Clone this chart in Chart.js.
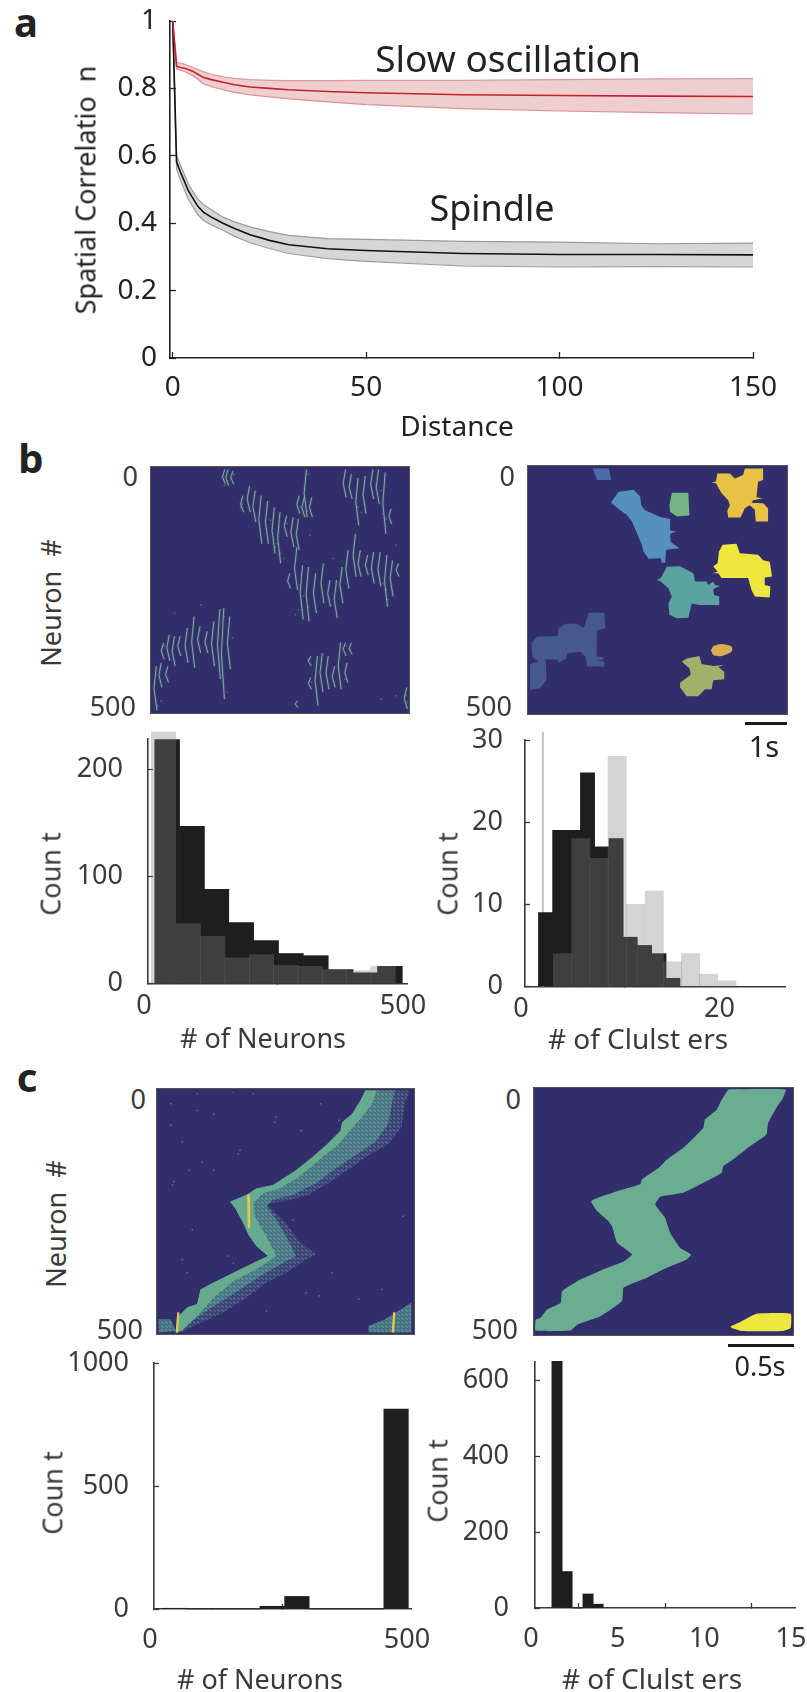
<!DOCTYPE html>
<html>
<head>
<meta charset="utf-8">
<title>Spatial correlation and clusters</title>
<script src="https://cdn.jsdelivr.net/npm/chart.js@4/dist/chart.umd.js"></script>
<style>
  html, body { margin: 0; padding: 0; background: #fff; }
  #page { position: relative; width: 807px; height: 1692px; overflow: hidden; }
  #page canvas { position: absolute; }
  .txt { position: absolute; white-space: pre; font-family: "Noto Sans", sans-serif; line-height: 1; color: #3a3a3a; }
  .bar { position: absolute; background: #1a1a1a; }
</style>
</head>
<body>
<div id="page"></div>
<script>
// panel a: correlation vs distance
var distance   = [0, 1, 2, 3, 4, 5, 6.5, 8, 10, 13, 16, 20, 25, 30, 40, 50, 75, 100, 125, 150];
var slowMean   = [1, .866, .862, .860, .856, .852, .842, .832, .826, .818, .811, .804, .800, .796, .791, .787, .781, .779, .777, .776];
var slowUpper  = [1, .878, .875, .872, .868, .863, .856, .849, .842, .834, .830, .826, .824, .823, .823, .824, .824, .826, .828, .829];
var slowLower  = [1, .858, .854, .850, .845, .839, .827, .813, .805, .796, .788, .781, .775, .769, .760, .752, .740, .733, .728, .724];
var spinMean   = [1, .582, .552, .525, .497, .478, .450, .432, .418, .400, .384, .366, .349, .336, .324, .319, .310, .307, .307, .306];
var spinUpper  = [1, .601, .573, .545, .517, .498, .472, .455, .440, .418, .404, .389, .375, .364, .354, .352, .346, .344, .339, .341];
var spinLower  = [1, .562, .528, .500, .472, .453, .425, .408, .395, .379, .361, .342, .325, .310, .295, .287, .273, .270, .271, .270];
var distanceTicks = [0, 50, 100, 150];
var correlationTicks = [0, .2, .4, .6, .8, 1];

// panel b left: raster streaks, time bin and first / last neuron
var rasterBins  = [216,226,241,271,291,308,326,346,366,383,403,423,439,463,441,479,456,581,599,619,641,664,681,701,719,434,413,451,469,491,514,534,554,571,589,611,626,648,666,686,706,723,741,9,24,44,31,48,64,81,103,123,141,163,183,201,213,231,476,476,496,511,529,548,566,586,581,599,436,766];
var rasterFirst = [5,5,8,58,38,48,58,69,82,92,99,102,105,5,58,62,62,5,15,22,18,5,5,11,85,163,216,200,203,216,196,230,230,203,169,136,169,179,173,173,179,190,196,405,398,405,357,341,344,344,327,304,324,334,314,290,287,304,384,428,384,378,384,405,357,398,357,357,475,448];
var rasterLast  = [35,38,35,92,92,112,156,156,176,196,142,163,169,102,95,102,102,62,65,119,95,65,75,136,116,250,247,310,314,297,277,284,307,277,247,223,223,220,237,243,284,263,223,495,448,438,391,394,405,384,398,408,378,378,405,431,472,411,405,452,485,458,452,448,452,438,384,381,489,492];
var rasterFringe = [[231,28],[241,22],[251,15],[222,38],[381,156],[391,176],[401,186],[376,163],[386,122],[361,108],[411,115],[271,82],[276,75],[476,15],[451,82],[471,90],[626,82],[636,92],[646,75],[711,105],[696,48],[701,95],[711,250],[701,237],[716,270],[461,263],[476,284],[446,290],[436,300],[741,159],[551,186],[481,139],[221,304],[211,290],[231,458],[221,465],[151,280],[71,297],[246,347],[21,485],[31,475],[41,364],[591,364],[601,371],[476,391],[486,438],[586,431],[696,472],[741,465],[771,465],[776,478]];

// panel b right: cluster outlines, time bin and neuron
var blobTop    = [[195,5],[243,5],[251,28],[208,28]];
var blobBlue   = [[273,52],[318,48],[338,62],[341,79],[353,89],[398,103],[428,107],[428,130],[446,132],[428,137],[430,153],[456,166],[416,169],[413,195],[403,195],[400,186],[363,187],[348,173],[343,159],[333,143],[313,112],[298,99],[278,89],[250,74]];
var blobGreen  = [[433,54],[483,54],[486,100],[448,102],[428,92],[426,79]];
var blobGold   = [[570,15],[608,15],[623,25],[648,18],[653,5],[708,5],[708,28],[693,32],[688,63],[708,65],[678,69],[673,74],[708,75],[723,85],[723,112],[686,112],[683,88],[668,79],[653,85],[640,104],[603,104],[600,90],[608,79],[603,69],[583,55],[566,35],[553,34],[566,31]];
var blobYellow = [[586,159],[628,157],[638,176],[693,179],[708,190],[728,193],[735,223],[713,225],[713,240],[730,243],[728,265],[683,263],[673,250],[663,226],[583,226],[573,216],[556,216],[571,213],[558,202],[571,196],[575,173]];
var blobTeal   = [[418,203],[458,202],[498,216],[503,233],[538,233],[543,240],[558,233],[563,240],[578,242],[558,248],[560,260],[576,263],[576,280],[516,280],[493,277],[483,306],[448,307],[426,300],[423,277],[433,263],[423,247],[400,233],[388,230],[400,226]];
var blobIndigo = [[183,296],[230,296],[233,327],[208,331],[206,383],[228,386],[228,390],[208,391],[230,394],[230,404],[178,404],[173,384],[156,374],[118,378],[115,388],[93,396],[88,390],[53,390],[56,431],[36,448],[6,451],[6,399],[30,394],[13,384],[10,357],[28,344],[88,343],[93,327],[113,318],[148,318],[168,327]];
var blobOlive  = [[478,388],[516,383],[523,399],[558,403],[590,401],[573,405],[591,415],[591,430],[558,432],[553,450],[533,450],[513,464],[478,464],[460,448],[458,437],[490,421],[486,408],[463,394]];
var blobOrange = [[558,363],[583,359],[613,364],[613,374],[583,383],[558,381],[551,371]];

// panel c left: travelling wave, one leading edge and three trailing edges
var waveEdge = [[632,3],[617,24],[592,51],[562,68],[557,85],[517,112],[472,139],[422,166],[352,196],[302,203],[272,216],[222,230],[237,243],[262,274],[277,297],[302,321],[337,341],[292,355],[232,375],[172,395],[132,409],[122,439],[92,446],[67,463],[57,497]];
var waveOuterTail = [[72,497],[132,477],[202,456],[272,426],[332,395],[392,375],[452,348],[482,338],[432,311],[392,274],[372,260],[332,233],[382,230],[462,216],[532,186],[592,159],[642,135],[702,112],[742,78],[752,30],[767,3]];
var waveMidTail   = [[122,466],[182,439],[252,409],[312,382],[382,355],[422,341],[392,301],[362,267],[332,240],[352,226],[412,216],[482,193],[542,162],[602,135],[662,108],[702,71],[712,30],[722,3]];
var waveCoreTail  = [[77,493],[132,456],[172,426],[232,392],[302,368],[362,341],[332,301],[297,260],[292,233],[322,213],[372,203],[432,179],[492,145],[552,112],[582,88],[617,61],[652,31],[667,3]];
var waveCornerLeft  = [[5,470],[42,470],[57,494],[5,497]];
var waveCornerRight = [[642,483],[692,470],[772,436],[772,497],[642,497]];
var wavePeaks = [[[277,216],[279,284]],[[65,456],[60,497]],[[720,456],[716,497]]];
var waveNoise = [[42,30],[122,44],[172,51],[362,57],[357,68],[437,85],[497,30],[42,74],[77,108],[252,125],[247,132],[137,149],[172,166],[97,166],[52,189],[47,196],[107,287],[77,348],[217,341],[232,355],[92,375],[122,10],[232,7],[292,10],[552,64],[747,260],[412,267],[532,375],[452,416],[612,429],[332,453],[492,422],[682,409]];

// panel c right: cluster outlines
var sweepGreen  = [[585,3],[758,3],[750,20],[730,40],[705,71],[700,94],[650,118],[605,142],[570,158],[565,172],[510,192],[450,212],[380,220],[365,236],[395,263],[410,293],[440,324],[473,337],[460,347],[400,364],[340,384],[270,404],[265,431],[200,462],[130,479],[110,491],[5,491],[5,469],[20,465],[40,448],[80,435],[85,411],[130,391],[220,364],[270,351],[295,337],[250,313],[235,280],[225,270],[190,249],[172,229],[205,219],[250,209],[320,195],[325,185],[375,162],[400,145],[450,121],[510,81],[515,64],[550,44],[565,24]];
var sweepYellow = [[592,482],[620,474],[670,457],[773,457],[773,486],[750,492],[625,492],[595,486]];

var neuronTicks = [100, 200, 300, 400];
var rasterTimeTicks = [234, 468, 702];
var waveTimeTicks = [195, 388, 582];

// histograms
var bDarkBins   = [37, 85, 132, 180, 228, 276, 324, 372, 420, 467];
var bDarkCount  = [228, 147, 88, 57, 40, 28, 26, 13, 10, 16];
var bLightBins  = [30, 78, 125, 172, 219, 266, 313, 360, 407, 454];
var bLightCount = [235, 56, 44, 24, 27, 17, 16, 13, 12, 16];

var bClustDarkBins   = [2.07, 3.5, 4.9, 6.3, 7.73, 9.18, 10.6, 12.05, 13.5, 14.9];
var bClustDarkCount  = [9, 19, 19, 26, 17, 18, 6, 5, 4, 1];
var bClustLightBins  = [3.78, 5.63, 7.48, 9.29, 11.14, 13.03, 14.87, 16.69, 18.5, 20.35];
var bClustLightCount = [4, 18, 15.6, 28, 10, 11.6, 3, 4, 1.5, .7];

var cBins   = [40, 88, 135, 183, 230, 278, 326, 375, 423, 471];
var cCount  = [3, 0, 0, 0, 11, 51, 0, 0, 0, 813];
var cClustBins  = [1.27, 1.85, 2.45, 3.06, 3.64];
var cClustCount = [650, 96, 0, 37, 10];

var FONT = '"Noto Sans", sans-serif';
var INK = '#3a3a3a';
var page = document.getElementById('page');

function toPoints(pairs) {
    return pairs.map(function (p) { return {x: p[0], y: p[1]}; });
}

function zip(xs, ys) {
    return xs.map(function (x, i) { return {x: x, y: ys[i]}; });
}

// puts text on the page, x/y is the centre (or right edge with anchor 'end')
function text(str, x, y, size, opts) {
    opts = opts || {};
    var d = document.createElement('div');
    d.className = 'txt';
    d.textContent = str;
    d.style.left = x + 'px';
    d.style.top = y + 'px';
    d.style.fontSize = size + 'px';
    if (opts.weight) d.style.fontWeight = opts.weight;
    if (opts.color) d.style.color = opts.color;
    var tx = opts.anchor === 'end' ? '-100%' : '-50%';
    d.style.transform = 'translate(' + tx + ',-50%)' + (opts.rot ? ' rotate(-90deg)' : '');
    page.appendChild(d);
}

function scaleBar(x, y, w) {
    var d = document.createElement('div');
    d.className = 'bar';
    d.style.left = x + 'px';
    d.style.top = y + 'px';
    d.style.width = w + 'px';
    d.style.height = '3px';
    page.appendChild(d);
}

// fills the plot area for the image panels
var plotBackground = {
    id: 'plotBackground',
    beforeDatasetsDraw: function (chart, args, opts) {
        if (!opts.color) return;
        var a = chart.chartArea;
        chart.ctx.save();
        chart.ctx.fillStyle = opts.color;
        chart.ctx.fillRect(a.left, a.top, a.width, a.height);
        chart.ctx.restore();
    }
};

// box is the plot area on the page, pad is the room left around it for labels
function makeChart(box, pad, type, datasets, scales, bg) {
    var c = document.createElement('canvas');
    c.width = pad.l + box.w + pad.r;
    c.height = pad.t + box.h + pad.b;
    c.style.left = (box.l - pad.l) + 'px';
    c.style.top = (box.t - pad.t) + 'px';
    c.style.width = c.width + 'px';
    c.style.height = c.height + 'px';
    if (bg) c.style.filter = 'blur(0.5px)'; // the images in the reference are soft
    page.appendChild(c);
    scales.x.afterFit = function (s) { s.height = pad.b; };
    scales.y.afterFit = function (s) { s.width = pad.l; };
    return new Chart(c.getContext('2d'), {
        type: type,
        data: {datasets: datasets},
        options: {
            responsive: false,
            animation: false,
            events: [],
            layout: {padding: {top: pad.t, right: pad.r}},
            plugins: {legend: {display: false}, tooltip: {enabled: false}, plotBackground: {color: bg}},
            scales: scales
        },
        plugins: [plotBackground]
    });
}

function axis(position, min, max, tickList, opts) {
    opts = opts || {};
    return {
        type: 'linear',
        position: position,
        offset: false,
        reverse: !!opts.reverse,
        min: min,
        max: max,
        afterBuildTicks: function (s) {
            s.ticks = tickList.map(function (v) { return {value: v}; });
        },
        border: {display: true, color: opts.color || '#3a3a3a', width: opts.width || 1.6},
        grid: {drawOnChartArea: false, drawTicks: true, tickLength: -(opts.tick || 5), tickColor: opts.color || '#3a3a3a', tickWidth: 1.3},
        ticks: {
            display: !opts.noLabels,
            color: INK,
            padding: opts.padding || 0,
            labelOffset: opts.shift || 0,
            maxRotation: 0,
            autoSkip: false,
            font: {family: FONT, size: opts.size || 27, lineHeight: 1},
            callback: function (v) { return String(v); }
        }
    };
}

// image panels get a box with small ticks on all four sides
function imageScales(timeTicks) {
    var frame = {noLabels: true, color: '#555555', width: 2, tick: 2};
    var top = axis('top', 0, 780, timeTicks, frame);
    var right = axis('right', 0, 500, neuronTicks, Object.assign({reverse: true}, frame));
    top.afterFit = function (s) { s.height = 0; };
    right.afterFit = function (s) { s.width = 0; };
    return {
        x: axis('bottom', 0, 780, timeTicks, frame),
        y: axis('left', 0, 500, neuronTicks, Object.assign({reverse: true}, frame)),
        x2: top,
        y2: right
    };
}

function shape(points, color, order, tension) {
    return {
        data: toPoints(points),
        showLine: true,
        fill: 'shape',
        tension: tension || 0,
        backgroundColor: color,
        borderColor: 'transparent',
        borderWidth: 0,
        pointRadius: 0,
        order: order || 0
    };
}

function strokes(pointList, color, width, order) {
    return {data: pointList, showLine: true, fill: false, borderColor: color, borderWidth: width, pointRadius: 0, order: order || 0};
}

function dots(points, color, radius) {
    return {data: toPoints(points), showLine: false, pointStyle: 'rect', pointRadius: radius || 1, pointBackgroundColor: color, pointBorderWidth: 0};
}

function line(xs, ys, color, width, fill, fillColor, order) {
    return {
        data: zip(xs, ys),
        showLine: true,
        borderColor: color,
        borderWidth: width,
        pointRadius: 0,
        fill: fill,
        backgroundColor: fillColor,
        order: order
    };
}

// small dashed tile for the fading part of the wave
function wavePattern(color, base) {
    var t = document.createElement('canvas');
    t.width = 4;
    t.height = 4;
    var g = t.getContext('2d');
    g.fillStyle = base;
    g.fillRect(0, 0, 4, 4);
    g.strokeStyle = color;
    g.lineWidth = 1.2;
    g.beginPath();
    g.moveTo(0, 0.5);
    g.lineTo(2.5, 2.5);
    g.stroke();
    return g.createPattern(t, 'repeat');
}

// panel a
var aScales = {
    x: axis('bottom', -0.7, 150, distanceTicks, {size: 28, padding: 22, color: '#222', tick: 6}),
    y: axis('left', 0, 1, correlationTicks, {size: 28, padding: 19, color: '#222', tick: 6})
};
aScales.x.ticks.color = aScales.y.ticks.color = '#222';
makeChart({l: 170, t: 20.5, w: 583, h: 337}, {l: 70, t: 40, r: 50, b: 50}, 'scatter', [
    line(distance, slowMean, '#c4202f', 1.6, false, undefined, 1),
    line(distance, slowUpper, '#dc9a9c', 1.2, '+1', 'rgba(206,110,110,.34)', 2),
    line(distance, slowLower, '#dc9a9c', 1.2, false, undefined, 2),
    line(distance, spinMean, '#111111', 1.6, false, undefined, 1),
    line(distance, spinUpper, '#9a9a9a', 1.2, '+1', 'rgba(170,170,170,.48)', 2),
    line(distance, spinLower, '#9a9a9a', 1.2, false, undefined, 2)
], aScales);

// panel b, raster
var rasterPoints = [];
rasterBins.forEach(function (b, i) {
    rasterPoints.push({x: b + 7, y: rasterFirst[i]});
    rasterPoints.push({x: b, y: (rasterFirst[i] + rasterLast[i]) / 2});
    rasterPoints.push({x: b + 9, y: rasterLast[i]});
    rasterPoints.push({x: NaN, y: NaN});
});
makeChart({l: 150, t: 466, w: 260, h: 248}, {l: 3, t: 3, r: 3, b: 3}, 'scatter', [
    strokes(rasterPoints, 'rgba(135,190,160,.85)', 1, 0),
    strokes(rasterPoints, 'rgba(125,165,165,.16)', 3, 1),
    dots(rasterFringe, 'rgba(120,150,155,.55)', 1.1)
], imageScales(rasterTimeTicks), '#312e6b');

// panel b, clusters
makeChart({l: 527.5, t: 466, w: 259.5, h: 248}, {l: 3, t: 3, r: 3, b: 3}, 'scatter', [
    shape(blobTop, '#4e6ca8'),
    shape(blobBlue, '#5690bd'),
    shape(blobGreen, '#74b482'),
    shape(blobGold, '#e8c245'),
    shape(blobYellow, '#ede73f'),
    shape(blobTeal, '#5ba39e'),
    shape(blobIndigo, '#46598f'),
    shape(blobOlive, '#a3b06a'),
    shape(blobOrange, '#d9ad52', 0, .3)
], imageScales(rasterTimeTicks), '#312e6b');

// panel c, raster
var peakSets = wavePeaks.map(function (p) { return strokes(toPoints(p), '#e3c84e', 2.4, 0); });
var waveMidFill = wavePattern('rgba(120,180,155,.6)', 'rgba(75,130,140,.8)');
var waveOuterFill = wavePattern('rgba(125,165,165,.55)', 'rgba(70,90,130,.45)');
makeChart({l: 156, t: 1088, w: 259, h: 247}, {l: 3, t: 3, r: 3, b: 3}, 'scatter', peakSets.concat([
    shape(waveEdge.concat(waveCoreTail), '#66ab8d', 1),
    shape(waveEdge.concat(waveMidTail), waveMidFill, 2),
    shape(waveEdge.concat(waveOuterTail), waveOuterFill, 3),
    shape(waveCornerLeft, waveMidFill, 1),
    shape(waveCornerRight, waveMidFill, 1),
    dots(waveNoise, 'rgba(130,150,165,.6)', 1.1)
]), imageScales(waveTimeTicks), '#312e6b');

// panel c, clusters
makeChart({l: 533.5, t: 1088, w: 259.5, h: 247.5}, {l: 3, t: 3, r: 3, b: 3}, 'scatter', [
    shape(sweepGreen, '#6bad91', 0, .12),
    shape(sweepYellow, '#ede73f', 0, .12)
], imageScales(waveTimeTicks), '#312e6b');

// overlaid histogram, the light bars are see-through so the overlap comes out grey
function bars(xs, ys, color, thickness, order) {
    return {
        type: 'bar',
        data: zip(xs, ys),
        backgroundColor: color,
        barThickness: thickness,
        grouped: false,
        clip: false,
        order: order
    };
}

var LIGHT = 'rgba(129,129,129,.342)';

makeChart({l: 147.5, t: 739, w: 259.5, h: 248}, {l: 100, t: 50, r: 50, b: 40}, 'bar', [
    bars(bLightBins, bLightCount, LIGHT, 24.4, 0),
    bars(bDarkBins, bDarkCount, '#1e1e1e', 24.8, 1)
], {x: axis('bottom', 0, 500, [0, 500], {padding: 14, shift: -4}), y: axis('left', 0, 228.5, [0, 100, 200], {padding: 30})});

makeChart({l: 525, t: 740, w: 260, h: 247}, {l: 100, t: 50, r: 50, b: 40}, 'bar', [
    bars(bClustLightBins, bClustLightCount, LIGHT, 18.2, 0),
    bars(bClustDarkBins, bClustDarkCount, '#1e1e1e', 14.2, 1),
    {type: 'scatter', data: zip([1.8, 1.8], [0, 31]), showLine: true, borderColor: '#c4c4c4', borderWidth: 2, pointRadius: 0, clip: false, order: 2}
], {x: axis('bottom', 0, 26.2, [0, 20], {padding: 14, shift: -4}), y: axis('left', 0, 30, [0, 10, 20, 30], {padding: 27})});

makeChart({l: 153.5, t: 1362.7, w: 257.5, h: 246.6}, {l: 100, t: 50, r: 50, b: 46}, 'bar', [
    bars(cBins, cCount, '#1e1e1e', 24.5, 0)
], {x: axis('bottom', 0, 500, [0, 500], {padding: 23, shift: -4}), y: axis('left', 0, 1000, [0, 500, 1000], {padding: 30})});

makeChart({l: 535, t: 1361.7, w: 260, h: 246.6}, {l: 100, t: 50, r: 50, b: 46}, 'bar', [
    bars(cClustBins, cClustCount, '#1e1e1e', 10.3, 0)
], {x: axis('bottom', 0, 15, [0, 5, 10, 15], {padding: 23, shift: -4}), y: axis('left', 0, 648, [0, 200, 400, 600], {padding: 31})});

// panel letters
text('a', 26, 22, 40, {weight: 700, color: '#222'});
text('b', 31, 458, 40, {weight: 700, color: '#222'});
text('c', 27, 1077, 40, {weight: 700, color: '#222'});

// panel a text
text('Spatial Correlatio  n', 85, 190, 27, {rot: true, color: '#222'});
text('Distance', 457, 425, 28, {color: '#222'});
text('Slow oscillation', 508, 57, 37, {color: '#222'});
text('Spindle', 492, 208, 36, {color: '#222'});

// image panel labels
text('Neuron  #', 50, 603, 27, {rot: true});
text('0', 138, 475, 27, {anchor: 'end'});
text('500', 136, 705, 27, {anchor: 'end'});
text('0', 515, 475, 27, {anchor: 'end'});
text('500', 512, 705, 27, {anchor: 'end'});
scaleBar(745, 722, 42);
text('1s', 764, 745, 29, {color: '#222'});

text('Neuron  #', 55, 1224, 27, {rot: true});
text('0', 146, 1098, 27, {anchor: 'end'});
text('500', 143, 1328, 27, {anchor: 'end'});
text('0', 521, 1098, 27, {anchor: 'end'});
text('500', 518, 1328, 27, {anchor: 'end'});
scaleBar(728, 1344, 66);
text('0.5s', 760, 1365, 27, {color: '#222'});

// histogram titles
text('Coun t', 50, 874, 27, {rot: true});
text('# of Neurons', 263, 1037, 27);
text('Coun t', 447, 874, 27, {rot: true});
text('# of Clulst ers', 638, 1038, 28);
text('Coun t', 52, 1493, 27, {rot: true});
text('# of Neurons', 260, 1678, 27);
text('Coun t', 437, 1481, 27, {rot: true});
text('# of Clulst ers', 652, 1678, 28);
</script>
</body>
</html>
